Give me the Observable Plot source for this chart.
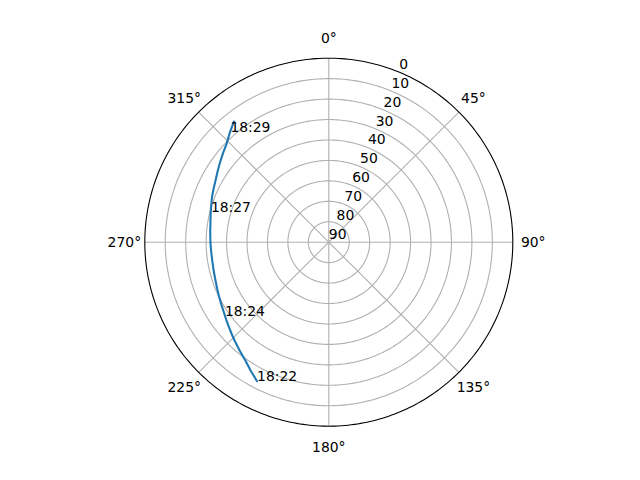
<!DOCTYPE html>
<html>
<head>
<meta charset="utf-8">
<script src="https://cdn.jsdelivr.net/npm/d3@7"></script>
<script src="https://cdn.jsdelivr.net/npm/@observablehq/plot@0.6"></script>
<style>
  html, body { margin: 0; padding: 0; background: #fff; }
  #chart { width: 640px; height: 480px; }
</style>
</head>
<body>
<div id="chart"></div>
<script>
// Satellite track (azimuth in degrees clockwise from north, elevation in degrees)
const trackAz = [207.3, 215.2, 223.8, 236.3, 251.3, 261.1, 270.0, 279.6, 291.8, 298.6, 313.9, 321.8];
const trackEl = [13.5, 19.2, 23.4, 28.3, 31.5, 32.3, 32.1, 31.3, 28.6, 26.9, 20.6, 14.9];

// Time annotations along the track
const labelTimes = ["18:22", "18:24", "18:27", "18:29"];
const labelAz = [207.3, 234.8, 284.3, 318.2];
const labelEl = [13.5, 27.8, 30.5, 17.8];

// Axis ticks
const thetaTicks = [0, 45, 90, 135, 180, 225, 270, 315];
const rTicks = [0, 10, 20, 30, 40, 50, 60, 70, 80, 90];
const rGrid = [10, 20, 30, 40, 50, 60, 70, 80];
const rLabelAngle = 22.5;

// azimuth (clockwise from north) -> longitude on a pole-centred azimuthal projection
const lon = (az) => 180 - az;

const R = 184;
const projection = d3.geoAzimuthalEquidistant()
  .rotate([0, -90])
  .scale(R / (Math.PI / 2))
  .translate([328.3, 241.7])
  .precision(0.1);

const track = trackAz.map((a, i) => ({az: a, el: trackEl[i]}));
const labels = labelTimes.map((t, i) => ({t, az: labelAz[i], el: labelEl[i]}));

const rings = rGrid.map((e) => d3.geoCircle().center([0, 90]).radius(90 - e).precision(1)());
const outer = d3.geoCircle().center([0, 90]).radius(89.9999).precision(1)();

const chart = Plot.plot({
  width: 640,
  height: 480,
  margin: 0,
  projection,
  style: {fontFamily: "'DejaVu Sans', sans-serif", fontSize: "13.9px", background: "#fff", color: "#000"},
  marks: [
    Plot.geo(rings, {fill: "none", stroke: "#b0b0b0", strokeWidth: 1.1}),
    Plot.link(thetaTicks, {
      x1: (d) => lon(d), y1: () => 90,
      x2: (d) => lon(d), y2: () => 0,
      stroke: "#b0b0b0", strokeWidth: 1.1
    }),
    Plot.line(track, {x: (d) => lon(d.az), y: "el", stroke: "#1f77b4", strokeWidth: 2.08}),
    Plot.geo([outer], {fill: "none", stroke: "#000", strokeWidth: 1.1}),
    Plot.text(labels, {
      x: (d) => lon(d.az), y: "el", text: "t",
      textAnchor: "start", lineAnchor: "bottom",
      fontSize: 13.9, fill: "#000"
    }),
    Plot.text(rTicks, {
      x: () => lon(rLabelAngle), y: (d) => d, text: (d) => String(d),
      textAnchor: "start", lineAnchor: "bottom", dy: -3.3,
      fontSize: 13.9, fill: "#000"
    }),
    Plot.text(thetaTicks, {
      x: (d) => lon(d), y: () => -10, text: (d) => `${d}°`,
      textAnchor: "middle", lineAnchor: "middle", dy: 0.6,
      fontSize: 13.9, fill: "#000"
    })
  ]
});

document.getElementById("chart").appendChild(chart);
</script>
</body>
</html>
